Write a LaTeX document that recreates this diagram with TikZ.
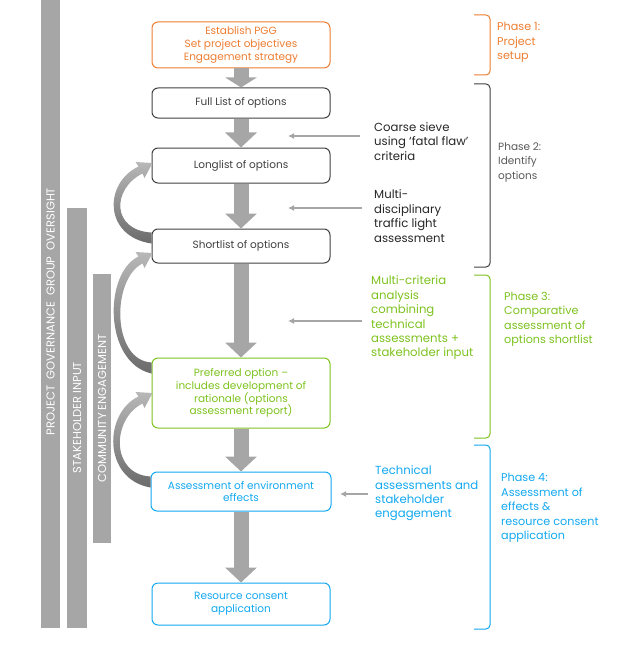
\documentclass[tikz,border=0pt]{standalone}
\usepackage{fontspec}
\setmainfont{Poppins}
\usetikzlibrary{arrows.meta,calc}

\definecolor{phaseorange}{HTML}{ED7D31}
\definecolor{phasegreen}{HTML}{7DC21E}
\definecolor{phaseblue}{HTML}{12A8F0}
\definecolor{bargray}{HTML}{A6A6A6}
\definecolor{textgray}{HTML}{404040}

% curved feedback arrow: #1 = tail (top of tail), #2 = tip
\newcommand\loopback[2]{%
  \shade[top color=black!28, bottom color=black!58]
    let \p1=(#1), \p2=(#2) in
    (\x1,{\y1-11bp})
      .. controls ({\x1-48bp},{\y1-11bp+0.1*(\y2-\y1)}) and ({\x2-48bp},{\y2-20bp}) .. ({\x2-13bp},{\y2-3.5bp})
      -- ({\x2-16bp},{\y2+1bp}) -- ({\x2+1bp},\y2) -- ({\x2-7bp},{\y2-15bp}) -- ({\x2-9bp},{\y2-10.5bp})
      .. controls ({\x2-40bp},{\y2-26bp}) and ({\x1-40bp},{\y1+2bp}) .. (\x1,\y1) -- cycle;}

\begin{document}
\begin{tikzpicture}[x=1bp, y=-1bp,
    stage/.style={draw=textgray, line width=1bp, rounded corners=6bp, minimum width=178bp,
      align=center, text=textgray, inner sep=0, font=\fontsize{10.5bp}{12.7bp}\selectfont},
    note/.style={anchor=west, align=left, inner sep=0, text=black!85,
      font=\fontsize{11.7bp}{14.4bp}\selectfont},
    phase/.style={anchor=west, align=left, inner sep=0, font=\fontsize{11.2bp}{14.5bp}\selectfont},
    bar label/.style={rotate=90, text=white, inner sep=0, font=\fontsize{11.5bp}{12bp}\selectfont},
    flow/.style={draw=bargray, line width=15bp, -{Triangle[length=15bp,width=31bp]}},
    pointer/.style={draw=bargray, line width=1.2bp, -{Latex[length=6bp,width=6bp]}},
    bracket/.style={line width=1bp, rounded corners=4bp}]
  \useasboundingbox (0,0) rectangle (625,652);

  \fill[bargray] (41,0) rectangle (60,628);
  \fill[bargray] (67,208) rectangle (87,628);
  \fill[bargray] (93,274) rectangle (111,543);
  \node[bar label] (pgg) at (50.5,311.5) {PROJECT\ \ GOVERNANCE\ \ GROUP\ \ OVERSIGHT};
  \node[bar label] (stake) at (77,417.5) {STAKEHOLDER INPUT};
  \node[bar label] (community) at (102,408.5) {COMMUNITY ENGAGEMENT};

  \node[stage, draw=phaseorange, text=phaseorange, minimum height=46bp] (setup) at (241,45)
    {Establish PGG\\Set project objectives\\Engagement strategy};
  \node[stage, minimum height=30bp] (full) at (241,103) {Full List of options};
  \node[stage, minimum height=35bp] (long) at (241,165.5) {Longlist of options};
  \node[stage, minimum height=34bp] (short) at (241,246) {Shortlist of options};
  \node[stage, draw=phasegreen, text=phasegreen, minimum height=70bp] (preferred) at (241,393)
    {Preferred option --\\includes development of\\rationale (options\\assessment report)};
  \node[stage, draw=phaseblue, text=phaseblue, minimum height=39bp, minimum width=180bp] (aee) at (241,491.5)
    {Assessment of environment\\effects};
  \node[stage, draw=phaseblue, text=phaseblue, minimum height=42bp] (consent) at (241,604)
    {Resource consent\\application};

  \draw[flow, -{Triangle[length=10bp,width=31bp]}] (setup) -- (full);
  \draw[flow] (full) -- (long);
  \draw[flow] (long) -- (short);
  \draw[flow] (short) -- (preferred);
  \draw[flow] (preferred) -- (aee);
  \draw[flow] (aee) -- (consent);

  \loopback{[yshift=-4bp]short.north west}{[yshift=2.5bp]long.west}
  \loopback{[yshift=-5bp]preferred.north west}{[yshift=-7bp]short.west}
  \loopback{[yshift=-5bp]aee.north west}{preferred.west}

  \node[note] (sieve) at (374,141.5) {Coarse sieve\\using ‘fatal flaw’\\criteria};
  \node[note] (traffic) at (374,216) {Multi-\\disciplinary\\traffic light\\assessment};
  \node[note, text=phasegreen] (mca) at (371,318)
    {Multi-criteria\\analysis\\combining\\technical\\assessments +\\stakeholder input};
  \node[note, text=phaseblue] (tech) at (375,493.5)
    {Technical\\assessments and\\stakeholder\\engagement};

  \coordinate (sievetip) at (288,136);
  \coordinate (traffictip) at (288,208);
  \coordinate (mcatip) at (288,321);
  \coordinate (techtip) at (340,494);
  \draw[pointer, shorten <=14bp] (sieve.west |- sievetip) -- (sievetip);
  \draw[pointer, shorten <=12bp] (traffic.west |- traffictip) -- (traffictip);
  \draw[pointer, shorten <=9bp] (mca.west |- mcatip) -- (mcatip);
  \draw[pointer, shorten <=7bp] (tech.west |- techtip) -- (techtip);

  \draw[bracket, phaseorange] (474,15) -- (490,15) -- (490,75) -- (474,75);
  \draw[bracket, textgray] (474,84) -- (490,84) -- (490,267) -- (474,267);
  \draw[bracket, phasegreen] (474,275) -- (490,275) -- (490,438) -- (474,438);
  \draw[bracket, phaseblue] (474,445) -- (490,445) -- (490,629) -- (474,629);

  \node[phase, text=phaseorange] (phase1) at (497,42.5) {Phase 1:\\Project\\setup};
  \node[phase, text=black!65, font=\fontsize{10.5bp}{14.5bp}\selectfont] (phase2) at (498,162)
    {Phase 2:\\Identify\\options};
  \node[phase, text=phasegreen] (phase3) at (504,319.5)
    {Phase 3:\\Comparative\\assessment of\\options shortlist};
  \node[phase, text=phaseblue] (phase4) at (501,508)
    {Phase 4:\\Assessment of\\effects \&\\resource consent\\application};
\end{tikzpicture}
\end{document}
